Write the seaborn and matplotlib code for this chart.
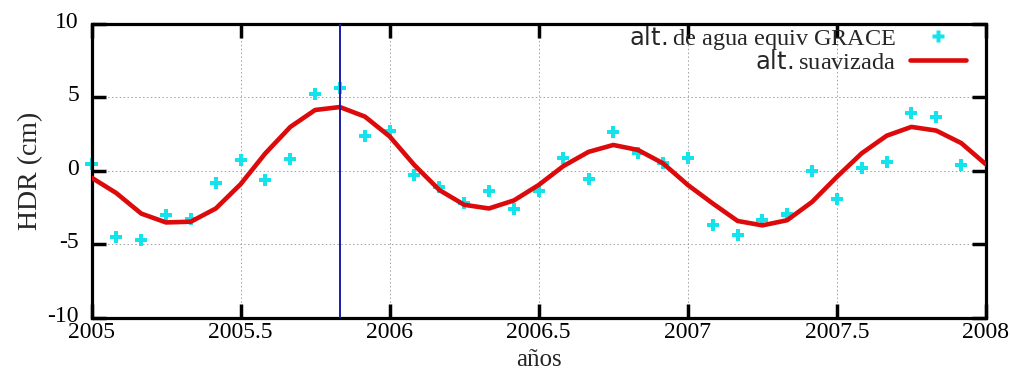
"""
Altura de agua equivalente GRACE vs. altura suavizada
Output: out.png
"""

import matplotlib
matplotlib.use('Agg')
import matplotlib.pyplot as plt
import matplotlib.transforms as mtransforms
from matplotlib.lines import Line2D
import pandas as pd
import seaborn as sns

# monthly epochs (decimal years)
anios = [2005.000, 2005.083, 2005.167, 2005.250, 2005.333, 2005.417,
         2005.500, 2005.583, 2005.667, 2005.750, 2005.833, 2005.917,
         2006.000, 2006.083, 2006.167, 2006.250, 2006.333, 2006.417,
         2006.500, 2006.583, 2006.667, 2006.750, 2006.833, 2006.917,
         2007.000, 2007.083, 2007.167, 2007.250, 2007.333, 2007.417,
         2007.500, 2007.583, 2007.667, 2007.750, 2007.833, 2007.917,
         2008.000]

# GRACE equivalent water height (cm), one per month 2005.0 .. 2007.917
alt_grace = [0.45, -4.48, -4.70, -3.00, -3.25, -0.80, 0.77, -0.60, 0.84, 5.25, 5.67, 2.37,
             2.73, -0.25, -1.09, -2.20, -1.37, -2.60, -1.34, 0.89, -0.52, 2.64, 1.23, 0.57,
             0.89, -3.66, -4.35, -3.34, -2.96, 0.00, -1.91, 0.23, 0.59, 3.96, 3.64, 0.39]

# smoothed height (cm), 2005.0 .. 2008.0
alt_suave = [-0.45, -1.50, -2.90, -3.50, -3.45, -2.55, -0.90, 1.20, 3.00, 4.15, 4.35, 3.70,
             2.35, 0.40, -1.30, -2.30, -2.55, -2.00, -0.95, 0.34, 1.30, 1.77, 1.43, 0.52,
             -0.95, -2.20, -3.40, -3.70, -3.35, -2.10, -0.40, 1.20, 2.40, 3.00, 2.75, 1.90, 0.45]

epoca_marcada = 2005.833

x_ticks = [2005, 2005.5, 2006, 2006.5, 2007, 2007.5, 2008]
x_labels = ['2005', '2005.5', '2006', '2006.5', '2007', '2007.5', '2008']
y_ticks = [-10, -5, 0, 5, 10]

CIAN = '#14e3ec'
ROJO = '#dc0a0a'
AZUL = '#1a1aa8'

sns.set_style('ticks')
plt.rcParams['font.family'] = ['Liberation Serif', 'DejaVu Serif']
plt.rcParams['axes.unicode_minus'] = False
plt.rcParams['mathtext.fontset'] = 'custom'
plt.rcParams['mathtext.sf'] = 'DejaVu Sans'
plt.rcParams['mathtext.rm'] = 'Liberation Serif'


def create_chart():
    obs = pd.DataFrame({'anio': anios[:len(alt_grace)], 'hdr': alt_grace})
    suave = pd.DataFrame({'anio': anios, 'hdr': alt_suave})

    fig = plt.figure(figsize=(10.10, 3.72), dpi=100)
    ax = fig.add_axes([0.0906, 0.1452, 0.8856, 0.7903])

    sns.lineplot(data=suave, x='anio', y='hdr', color=ROJO, linewidth=3.3,
                 ax=ax, zorder=3)
    sns.scatterplot(data=obs, x='anio', y='hdr', color=CIAN, marker='P', s=75,
                    edgecolor='none', ax=ax, zorder=2, clip_on=False)
    ax.axvline(epoca_marcada, color=AZUL, linewidth=1.4, zorder=4)

    ax.set_xlim(2005, 2008)
    ax.set_ylim(-10, 10)
    ax.set_xticks(x_ticks)
    ax.set_xticklabels(x_labels)
    ax.set_yticks(y_ticks)

    ax.grid(True, color='#a0a0a0', linestyle=(0, (1.5, 2.5)), linewidth=0.7)
    ax.tick_params(direction='in', length=10, width=2.5, labelsize=17,
                   top=True, right=True, pad=3, colors='black')
    ax.tick_params(axis='y', pad=9)
    for sp in ax.spines.values():
        sp.set_linewidth(2.3)
        sp.set_color('black')

    # y tick labels sit a little above their ticks, like in gnuplot
    lift = mtransforms.ScaledTranslation(0, 4 / 100, fig.dpi_scale_trans)
    for lbl in ax.get_yticklabels():
        lbl.set_transform(lbl.get_transform() + lift)

    ax.set_xlabel('años', fontsize=18, labelpad=4)
    ax.set_ylabel('HDR (cm)', fontsize=20, labelpad=3)

    handles = [Line2D([], [], color=CIAN, marker='P', markersize=8.5,
                      markeredgecolor='none', linestyle='none'),
               Line2D([], [], color=ROJO, linewidth=3.3)]
    labels = [r'$\mathsf{alt.}$de agua equiv GRACE', r'$\mathsf{alt.}$suavizada']
    ax.legend(handles, labels, loc='upper right', bbox_to_anchor=(0.978, 1.0),
              frameon=False, markerfirst=False, fontsize=17.5, handlelength=2.3,
              handletextpad=0.6, labelspacing=-0.05, borderpad=0, borderaxespad=0)

    fig.savefig('out.png', dpi=100)
    plt.close(fig)


if __name__ == '__main__':
    create_chart()
